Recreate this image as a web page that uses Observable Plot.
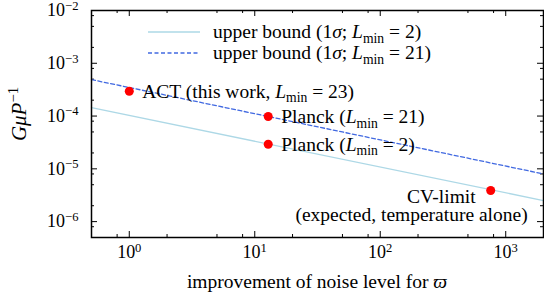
<!DOCTYPE html>
<html><head><meta charset="utf-8">
<script src="https://cdn.jsdelivr.net/npm/d3@7"></script>
<script src="https://cdn.jsdelivr.net/npm/@observablehq/plot@0.6"></script>
<style>body{margin:0;background:#fff}</style>
</head><body><div id="chart"></div>
<script>
// ---- data ----
const boundX = [0.5, 2000];
const boundLmin2 = [1.44e-4, 2.51e-6];
const boundLmin21 = [4.9e-4, 8.0e-6];
const pointX = [1.0, 12.8, 12.8, 759];
const pointY = [2.95e-4, 9.8e-5, 2.92e-5, 3.88e-6];
const pointLabels = ["ACT (this work, $L$_min_ = 23)", "Planck ($L$_min_ = 21)", "Planck ($L$_min_ = 2)", "CV-limit"];
const cvSubLabel = "(expected, temperature alone)";
const legendLabels = ["upper bound (1$σ$; $L$_min_ = 2)", "upper bound (1$σ$; $L$_min_ = 21)"];
const xMajor = [1, 10, 100, 1000];
const xMinor = [0.8, 2, 5, 8, 20, 50, 80, 200, 500, 800];
const yMajor = [1e-6, 1e-5, 1e-4, 1e-3, 1e-2];
const yMinor = [8e-7, 2e-6, 5e-6, 8e-6, 2e-5, 5e-5, 8e-5, 2e-4, 5e-4, 8e-4, 2e-3, 5e-3, 8e-3];
const xLabel = "improvement of noise level for $ϖ$";
const yLabel = "$GμP$^−1^";

const lo = boundX.map((x, i) => ({x, y: boundLmin2[i]}));
const hi = boundX.map((x, i) => ({x, y: boundLmin21[i]}));
const pts = pointX.map((x, i) => ({x, y: pointY[i], label: pointLabels[i]}));

const W = 544, H = 294, mL = 91, mR = 1, mT = 10, mB = 57;
const innerW = W - mL - mR, innerH = H - mT - mB;
const FS = 19.5, TFS = 18, YFS = 21;
const FONT = "'Liberation Serif', 'Times New Roman', serif";
const LIGHT = "#add8e6", DASH = "#4169e1";
const sup = d => "10^" + String(Math.round(Math.log10(d))).replace("-", "−") + "^";

const chart = Plot.plot({
  width: W, height: H,
  marginLeft: mL, marginRight: mR, marginTop: mT, marginBottom: mB,
  style: {fontFamily: FONT, fontSize: FS + "px", background: "white", color: "black"},
  x: {type: "log", domain: [0.5, 2000], ticks: xMajor, tickSize: 0, tickPadding: 8, tickFormat: sup, label: null},
  y: {type: "log", domain: [5e-7, 1e-2], ticks: yMajor, tickSize: 0, tickPadding: 13, tickFormat: sup, label: null},
  marks: [
    Plot.ruleX(xMajor, {x: d => d, insetTop: innerH - 6, stroke: "black"}),
    Plot.ruleX(xMajor, {x: d => d, insetBottom: innerH - 6, stroke: "black"}),
    Plot.ruleX(xMinor, {x: d => d, insetTop: innerH - 3, stroke: "black"}),
    Plot.ruleX(xMinor, {x: d => d, insetBottom: innerH - 3, stroke: "black"}),
    Plot.ruleY(yMajor.slice(0, -1), {y: d => d, insetRight: innerW - 6, stroke: "black"}),
    Plot.ruleY(yMajor.slice(0, -1), {y: d => d, insetLeft: innerW - 6, stroke: "black"}),
    Plot.ruleY(yMinor, {y: d => d, insetRight: innerW - 3, stroke: "black"}),
    Plot.ruleY(yMinor, {y: d => d, insetLeft: innerW - 3, stroke: "black"}),
    Plot.line(lo, {x: "x", y: "y", stroke: LIGHT, strokeWidth: 1.3}),
    Plot.line(hi, {x: "x", y: "y", stroke: DASH, strokeWidth: 1.3, strokeDasharray: "4,2.5"}),
    Plot.dot(pts, {x: "x", y: "y", r: 4.5, fill: "#ff0000"}),
    Plot.text(pts.slice(0, 3), {x: "x", y: "y", text: "label", textAnchor: "start", dx: 13, fill: "black"}),
    Plot.text(pts.slice(3), {x: "x", y: "y", text: "label", textAnchor: "end", dx: -15, dy: 6, fill: "black"}),
    Plot.text(pts.slice(3), {x: "x", y: "y", text: () => cvSubLabel, textAnchor: "end", dx: 37, dy: 24, fill: "black"}),
    Plot.frame({stroke: "black", strokeWidth: 1.5})
  ]
});

const NS = "http://www.w3.org/2000/svg";
function rich(el, s, base) {
  const parts = s.split(/(\$[^$]+\$|_[^_]+_|\^[^^]+\^)/).filter(p => p);
  el.textContent = "";
  let shift = 0;
  for (const p of parts) {
    const t = document.createElementNS(NS, "tspan");
    let target = 0;
    if (p[0] === "$") { t.textContent = p.slice(1, -1); t.setAttribute("font-style", "italic"); }
    else if (p[0] === "_") { t.textContent = p.slice(1, -1); t.setAttribute("font-size", base * 0.7); target = 0.25 * base; }
    else if (p[0] === "^") { t.textContent = p.slice(1, -1); t.setAttribute("font-size", base * 0.7); target = -0.36 * base; }
    else t.textContent = p;
    if (target !== shift) { t.setAttribute("dy", target - shift); shift = target; }
    el.appendChild(t);
  }
}
const svg = d3.select(chart);
svg.attr("font-family", FONT).attr("font-size", FS);
svg.selectAll('g[aria-label$="tick label"]').attr("font-size", TFS);
// legend
const lg = svg.append("g").attr("text-anchor", "start");
[[LIGHT, null, 32], [DASH, "4,2.5", 53]].forEach(([c, dash, yy], i) => {
  lg.append("line").attr("x1", 148).attr("x2", 200).attr("y1", yy).attr("y2", yy)
    .attr("stroke", c).attr("stroke-width", 1.3).attr("stroke-dasharray", dash);
  lg.append("text").attr("x", 213).attr("y", yy).attr("dy", "0.32em").attr("fill", "black").text(legendLabels[i]);
});
// axis titles
svg.append("text").attr("x", mL + innerW / 2).attr("y", 288).attr("text-anchor", "middle").attr("fill", "black").text(xLabel);
svg.append("text").attr("class", "ylab").attr("font-size", YFS).attr("transform", "translate(19,114) rotate(-90)").attr("text-anchor", "middle").attr("dy", "0.32em").attr("fill", "black").text(yLabel);

chart.querySelectorAll("text").forEach(el => {
  el.setAttribute("font-family", FONT);
  el.style.fontFamily = FONT;
  let base = FS;
  if (el.classList.contains("ylab")) base = YFS;
  else if (el.closest('g[aria-label$="tick label"]')) base = TFS;
  if (/[$_^]/.test(el.textContent)) rich(el, el.textContent, base);
});
document.getElementById("chart").appendChild(chart);
</script>
</body></html>
